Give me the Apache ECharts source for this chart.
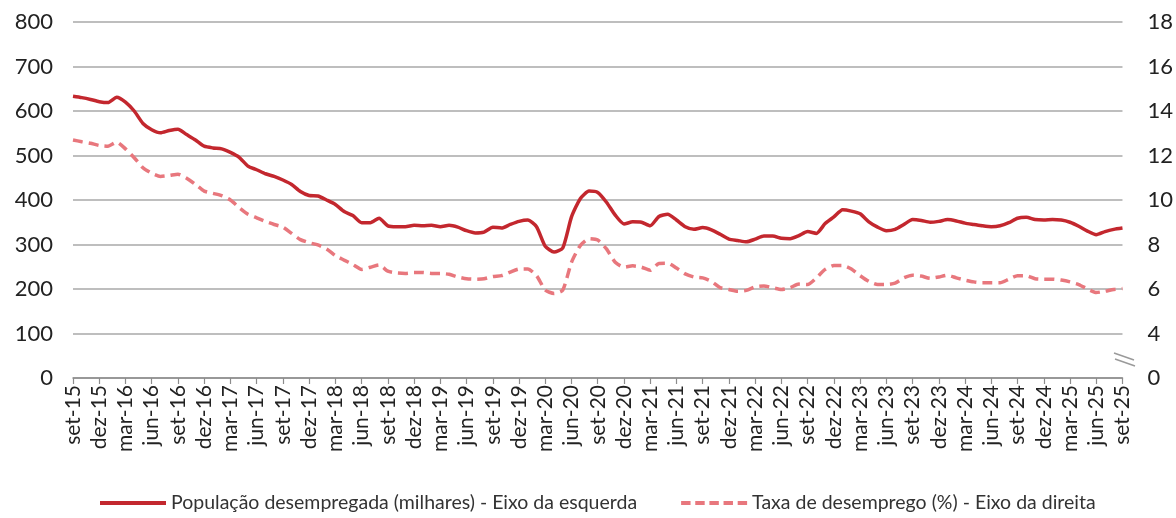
<!DOCTYPE html>
<html>
<head>
<meta charset="utf-8">
<script src="https://cdn.jsdelivr.net/npm/echarts@6/dist/echarts.min.js"></script>
<style>
  html, body { margin: 0; padding: 0; background: #fff; }
  #myChart { width: 1176px; height: 518px; }
</style>
</head>
<body>
<div id="myChart"></div>
<script>
// meses (set-15 .. set-25)
const mesesPt = ['jan', 'fev', 'mar', 'abr', 'mai', 'jun', 'jul', 'ago', 'set', 'out', 'nov', 'dez']
const categorias = []
for (let k = 0; k <= 120; k++) {
  const m = (8 + k) % 12
  const a = 15 + Math.floor((8 + k) / 12)
  categorias.push(mesesPt[m] + '-' + a)
}

// População desempregada (milhares) - eixo da esquerda
const populacao = [
  633, 630, 626, 621, 619, 631, 620, 600, 572, 558, 551, 556,
  559, 547, 535, 521, 517, 515, 507, 496, 476, 468, 459, 453,
  445, 435, 419, 410, 409, 400, 390, 374, 365, 349, 349, 359,
  342, 340, 340, 343, 342, 343, 340, 343, 339, 331, 326, 328,
  339, 337, 345, 352, 355, 340, 296, 283, 292, 362, 403, 420,
  417, 395, 366, 346, 351, 350, 342, 363, 368, 355, 340, 334,
  338, 333, 323, 312, 309, 306, 312, 319, 319, 314, 313, 320,
  329, 325, 347, 362, 378, 375, 369, 351, 339, 331, 334, 345,
  356, 354, 350, 352, 356, 353, 348, 345, 342, 340, 342, 349,
  359, 361, 356, 355, 356, 355, 350, 341, 330, 322, 329, 334,
  337
]

// Taxa de desemprego (%) - eixo da direita
const taxa = [
  12.7, 12.62, 12.55, 12.45, 12.42, 12.6, 12.3, 11.9, 11.45, 11.2, 11.06, 11.1,
  11.16, 10.98, 10.7, 10.4, 10.3, 10.2, 10.0, 9.66, 9.36, 9.2, 9.04, 8.9,
  8.78, 8.5, 8.22, 8.08, 7.98, 7.8, 7.5, 7.3, 7.1, 6.88, 6.98, 7.08,
  6.8, 6.72, 6.7, 6.74, 6.74, 6.7, 6.7, 6.66, 6.54, 6.46, 6.44, 6.46,
  6.56, 6.6, 6.76, 6.9, 6.9, 6.6, 5.95, 5.8, 5.95, 7.2, 7.95, 8.26,
  8.2, 7.8, 7.2, 6.98, 7.04, 6.98, 6.84, 7.15, 7.16, 6.94, 6.68, 6.54,
  6.5, 6.34, 6.06, 5.98, 5.9, 5.94, 6.1, 6.14, 6.06, 5.98, 6.06, 6.22,
  6.2, 6.5, 6.88, 7.06, 7.06, 6.9, 6.6, 6.34, 6.2, 6.2, 6.26, 6.5,
  6.62, 6.58, 6.48, 6.54, 6.62, 6.5, 6.4, 6.32, 6.28, 6.28, 6.28, 6.44,
  6.6, 6.6, 6.46, 6.44, 6.44, 6.4, 6.32, 6.2, 6.0, 5.84, 5.9, 5.98,
  6.02
]

const nomePop = 'População desempregada (milhares) - Eixo da esquerda'
const nomeTaxa = 'Taxa de desemprego (%) - Eixo da direita'
const fonte = 'Lato, "Noto Sans", sans-serif'
const corPop = '#c3272e'
const corTaxa = '#e8777d'

const myChart = echarts.init(document.getElementById('myChart'))
const option = {
  animation: false,
  textStyle: { fontFamily: fonte },
  grid: {
    left: 73,
    right: 53,
    top: 22,
    bottom: 140,
    containLabel: false
  },
  legend: {
    bottom: 0,
    left: 95,
    itemWidth: 66,
    itemHeight: 4,
    itemGap: 44,
    textStyle: { fontSize: 19.5, color: '#333', fontFamily: fonte },
    data: [
      { name: nomePop, icon: 'rect' },
      // ícone tracejado
      { name: nomeTaxa, icon: 'path://M0,0h10v4h-10z M15,0h10v4h-10z M30,0h10v4h-10z M45,0h10v4h-10z M60,0h10v4h-10z' }
    ]
  },
  xAxis: {
    type: 'category',
    data: categorias,
    boundaryGap: false,
    axisLine: { lineStyle: { color: '#8c8c8c', width: 1.5 } },
    axisTick: {
      show: true,
      interval: 2,
      length: 6,
      lineStyle: { color: '#8c8c8c', width: 1.2 }
    },
    axisLabel: {
      interval: 2,
      rotate: 90,
      fontSize: 21,
      color: '#222',
      margin: 7,
      fontFamily: fonte
    }
  },
  yAxis: [
    {
      type: 'value',
      min: 0,
      max: 800,
      interval: 100,
      axisLine: { show: false },
      axisTick: { show: false },
      axisLabel: { fontSize: 22, color: '#222', margin: 20, fontFamily: fonte },
      splitLine: { lineStyle: { color: '#a8a8a8', width: 1.5 } }
    },
    {
      type: 'value',
      min: 2,
      max: 18,
      interval: 2,
      axisLine: { show: false },
      axisTick: { show: false },
      splitLine: { show: false },
      axisLabel: {
        fontSize: 22,
        color: '#222',
        margin: 25,
        fontFamily: fonte,
        formatter: function (v) { return v === 2 ? '0' : String(v) }
      }
    }
  ],
  // marca de quebra do eixo da direita
  graphic: [
    {
      type: 'line',
      shape: { x1: 1114, y1: 353, x2: 1134, y2: 360 },
      style: { stroke: '#9a9a9a', lineWidth: 1.5 }
    },
    {
      type: 'line',
      shape: { x1: 1115, y1: 359, x2: 1135, y2: 366 },
      style: { stroke: '#9a9a9a', lineWidth: 1.5 }
    }
  ],
  series: [
    {
      name: nomePop,
      type: 'line',
      yAxisIndex: 0,
      data: populacao,
      symbol: 'none',
      smooth: 0.2,
      lineStyle: { color: corPop, width: 3.5 },
      itemStyle: { color: corPop },
      z: 3
    },
    {
      name: nomeTaxa,
      type: 'line',
      yAxisIndex: 1,
      data: taxa,
      symbol: 'none',
      smooth: 0.2,
      lineStyle: { color: corTaxa, width: 3.5, type: [10, 6] },
      itemStyle: { color: corTaxa },
      z: 2
    }
  ]
}
myChart.setOption(option)
</script>
</body>
</html>
